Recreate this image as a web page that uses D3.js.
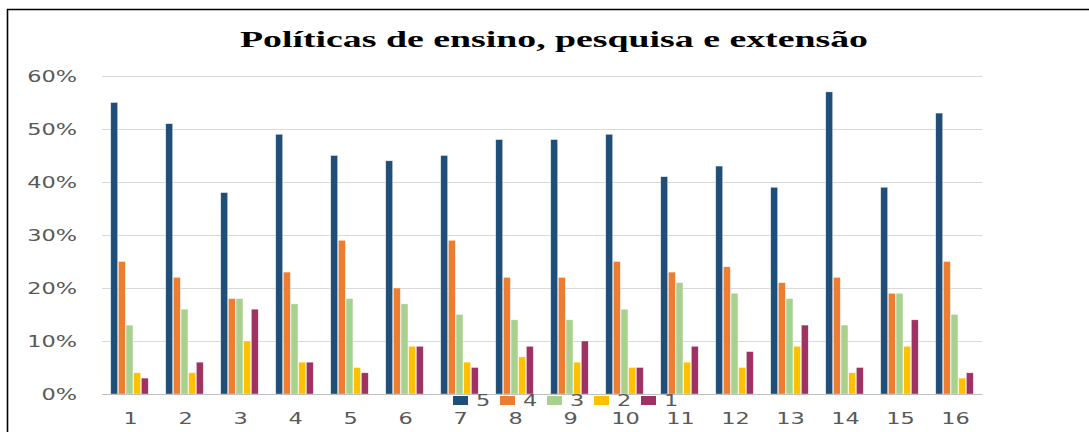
<!DOCTYPE html>
<html>
<head>
<meta charset="utf-8">
<script src="https://cdn.jsdelivr.net/npm/d3@7"></script>
<style>
  body { margin: 0; background: #fff; }
  svg { display: block; }
</style>
</head>
<body>
<div id="chart"></div>
<script>
// categories and series (percent)
var categories = ["1", "2", "3", "4", "5", "6", "7", "8", "9", "10", "11", "12", "13", "14", "15", "16"];
var seriesKeys = ["5", "4", "3", "2", "1"];
var s5 = [55, 51, 38, 49, 45, 44, 45, 48, 48, 49, 41, 43, 39, 57, 39, 53];
var s4 = [25, 22, 18, 23, 29, 20, 29, 22, 22, 25, 23, 24, 21, 22, 19, 25];
var s3 = [13, 16, 18, 17, 18, 17, 15, 14, 14, 16, 21, 19, 18, 13, 19, 15];
var s2 = [4, 4, 10, 6, 5, 9, 6, 7, 6, 5, 6, 5, 9, 4, 9, 3];
var s1 = [3, 6, 16, 6, 4, 9, 5, 9, 10, 5, 9, 8, 13, 5, 14, 4];
var yTicks = [0, 10, 20, 30, 40, 50, 60];
var colors = ["#1F4E79", "#ED7D31", "#A9D18E", "#FFC000", "#9E3263"];

var seriesValues = [s5, s4, s3, s2, s1];
var rows = categories.map(function (c, i) {
    var row = { cat: c };
    seriesKeys.forEach(function (k, j) { row[k] = seriesValues[j][i]; });
    return row;
});

var W = 1089, H = 432;
var plotLeft = 102, plotRight = 982, plotTop = 76, plotBottom = 394;
var stretch = 1.4; // the text in the picture is stretched sideways

var svg = d3.select("#chart").append("svg")
    .attr("width", W).attr("height", H);

// frame (top and left edges visible)
svg.append("path")
    .attr("d", "M7.5," + H + "V9.5H" + W)
    .attr("fill", "none").attr("stroke", "#000").attr("stroke-width", 1.6);

svg.append("text")
    .attr("x", 554).attr("y", 47)
    .attr("text-anchor", "middle")
    .attr("textLength", 628).attr("lengthAdjust", "spacingAndGlyphs")
    .style("font-family", "'Liberation Serif', 'Times New Roman', serif")
    .style("font-weight", "bold").style("font-size", "23px")
    .attr("fill", "#000")
    .text("Políticas de ensino, pesquisa e extensão");

var x0 = d3.scaleBand().domain(categories).range([plotLeft, plotRight]).paddingInner(0.29).paddingOuter(0.145);
var x1 = d3.scaleBand().domain(seriesKeys).range([0, x0.bandwidth()]).padding(0.1);
var y = d3.scaleLinear().domain([0, 60]).range([plotBottom, plotTop]);

// y axis with gridlines
var yAxis = svg.append("g")
    .attr("transform", "translate(" + plotLeft + ",0)")
    .call(d3.axisLeft(y).tickValues(yTicks).tickSize(-(plotRight - plotLeft)).tickFormat(function (d) { return d + "%"; }));
yAxis.select(".domain").remove();
yAxis.selectAll(".tick line").attr("stroke", "#d9d9d9").attr("stroke-width", 1.2);
yAxis.selectAll(".tick text")
    .attr("x", 0).attr("dy", "0.36em")
    .attr("transform", "translate(-25,0) scale(" + stretch + ",1)")
    .attr("fill", "#595959")
    .style("font-family", "'DejaVu Sans', Verdana, sans-serif")
    .style("font-size", "16px");

// bars
var groups = svg.append("g").selectAll("g")
    .data(rows).enter().append("g")
    .attr("transform", function (d) { return "translate(" + x0(d.cat) + ",0)"; });

groups.selectAll("rect")
    .data(function (d) { return seriesKeys.map(function (k) { return { key: k, value: d[k] }; }); })
    .enter().append("rect")
    .attr("x", function (d) { return x1(d.key); })
    .attr("width", x1.bandwidth())
    .attr("y", function (d) { return y(d.value); })
    .attr("height", function (d) { return plotBottom - y(d.value); })
    .attr("fill", function (d, i) { return colors[i]; })
    .attr("stroke", "#ffffff").attr("stroke-opacity", 0.6).attr("stroke-width", 0.6);

// x axis
var xAxis = svg.append("g")
    .attr("transform", "translate(0," + plotBottom + ")")
    .call(d3.axisBottom(x0).tickSize(0).tickPadding(0));
xAxis.select(".domain").attr("stroke", "#bfbfbf").attr("stroke-width", 1.2);
xAxis.selectAll(".tick text")
    .attr("y", 0).attr("dy", 0)
    .attr("transform", "translate(1,30) scale(" + stretch + ",1)")
    .attr("fill", "#595959")
    .style("font-family", "'DejaVu Sans', Verdana, sans-serif")
    .style("font-size", "16px");

// legend
var legend = svg.append("g").selectAll("g")
    .data(seriesKeys).enter().append("g")
    .attr("transform", function (d, i) { return "translate(" + (453 + i * 47) + ",396)"; });
legend.append("rect")
    .attr("width", 15).attr("height", 9)
    .attr("fill", function (d, i) { return colors[i]; });
legend.append("text")
    .attr("transform", "translate(23,10) scale(" + stretch + ",1)")
    .attr("fill", "#595959")
    .style("font-family", "'DejaVu Sans', Verdana, sans-serif")
    .style("font-size", "16px")
    .text(function (d) { return d; });
</script>
</body>
</html>
